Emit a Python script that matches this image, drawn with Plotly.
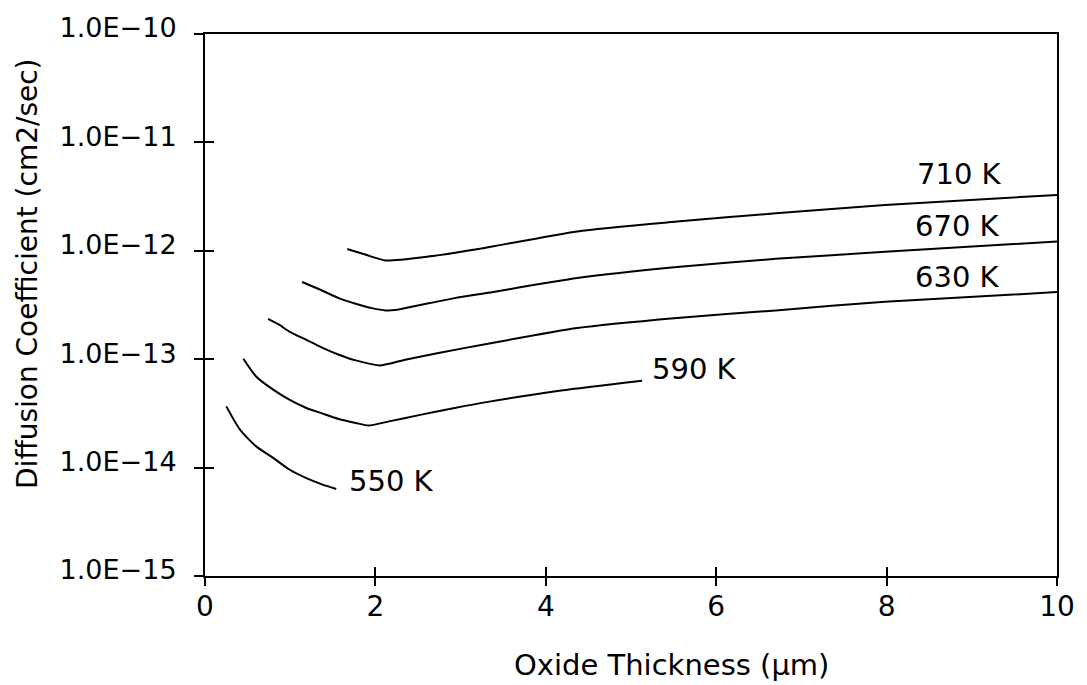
import numpy as np
import plotly.graph_objects as go

# Diffusion coefficient vs. oxide thickness at several temperatures
x_550 = [0.25, 0.41, 0.60, 0.80, 0.99, 1.19, 1.38, 1.54]
d_550 = [3.67e-14, 2.24e-14, 1.57e-14, 1.23e-14, 9.6e-15, 8.0e-15, 6.97e-15, 6.35e-15]

x_590 = [0.45, 0.60, 0.80, 0.99, 1.19, 1.38, 1.57, 1.77, 1.92, 2.16, 2.54, 2.93, 3.32, 4.18, 5.13]
d_590 = [1.01e-13, 6.93e-14, 5.24e-14, 4.24e-14, 3.55e-14, 3.15e-14, 2.81e-14, 2.58e-14,
         2.44e-14, 2.67e-14, 3.08e-14, 3.55e-14, 4.04e-14, 5.15e-14, 6.34e-14]

x_630 = [0.74, 0.87, 0.99, 1.19, 1.38, 1.57, 1.77, 2.06, 2.35, 2.74, 3.32, 4.37, 5.54, 6.70, 7.98, 10.0]
d_630 = [2.36e-13, 2.08e-13, 1.80e-13, 1.51e-13, 1.27e-13, 1.10e-13, 9.75e-14, 8.77e-14,
         9.89e-14, 1.14e-13, 1.39e-13, 1.94e-13, 2.40e-13, 2.82e-13, 3.39e-13, 4.16e-13]

x_670 = [1.14, 1.38, 1.57, 1.77, 1.96, 2.12, 2.23, 2.54, 2.93, 3.32, 4.37, 5.54, 6.70, 7.98, 10.0]
d_670 = [5.15e-13, 4.28e-13, 3.66e-13, 3.25e-13, 2.96e-13, 2.82e-13, 2.84e-13, 3.18e-13,
         3.66e-13, 4.10e-13, 5.60e-13, 7.08e-13, 8.43e-13, 9.79e-13, 1.22e-12]

x_710 = [1.67, 1.89, 2.12, 2.62, 3.21, 4.37, 5.54, 6.70, 7.98, 10.0]
d_710 = [1.04e-12, 9.18e-13, 8.15e-13, 8.85e-13, 1.04e-12, 1.51e-12, 1.86e-12, 2.22e-12,
         2.65e-12, 3.28e-12]

series_names = ["550 K", "590 K", "630 K", "670 K", "710 K"]
series_x = [x_550, x_590, x_630, x_670, x_710]
series_d = [d_550, d_590, d_630, d_670, d_710]

# Curve label anchor points (thickness, coefficient)
label_x = [2.185, 5.75, 8.83, 8.83, 8.85]
label_d = [7.48e-15, 8.17e-14, 5.79e-13, 1.71e-12, 5.13e-12]

x_ticks = [0, 2, 4, 6, 8, 10]
y_ticks = [1e-15, 1e-14, 1e-13, 1e-12, 1e-11, 1e-10]
y_tick_text = ["1.0E\u221215", "1.0E\u221214", "1.0E\u221213",
               "1.0E\u221212", "1.0E\u221211", "1.0E\u221210"]

FONT = "DejaVu Sans"

fig = go.Figure()
for name, xs, ds in zip(series_names, series_x, series_d):
    fig.add_trace(go.Scatter(x=xs, y=ds, mode="lines", name=name,
                             line=dict(color="black", width=2,
                                       shape="spline", smoothing=0.6),
                             showlegend=False))

# Empty trace on the overlay axes so their cross-ticks are drawn
fig.add_trace(go.Scatter(x=[None], y=[None], xaxis="x2", yaxis="y2",
                         mode="lines", showlegend=False, hoverinfo="skip"))

for name, lx, ld in zip(series_names, label_x, label_d):
    fig.add_annotation(x=lx, y=np.log10(ld), xref="x", yref="y", text=name,
                       showarrow=False, xanchor="center", yanchor="middle",
                       font=dict(family=FONT, size=29, color="black"))

# Axis titles
fig.add_annotation(x=0.547, y=-0.164, xref="paper", yref="paper",
                   text="Oxide Thickness (\u03bcm)", showarrow=False,
                   xanchor="center", yanchor="middle",
                   font=dict(family=FONT, size=29, color="black"))
fig.add_annotation(x=-0.209, y=0.559, xref="paper", yref="paper",
                   text="Diffusion Coefficient (cm2/sec)", showarrow=False,
                   textangle=-90, xanchor="center", yanchor="middle",
                   font=dict(family=FONT, size=28, color="black"))

axis_common = dict(showgrid=False, zeroline=False, linecolor="black",
                   linewidth=2, tickcolor="black", tickwidth=2, ticklen=9)

fig.update_layout(
    width=1087, height=685, autosize=False,
    margin=dict(l=205, r=25, t=34, b=109, pad=0),
    paper_bgcolor="white", plot_bgcolor="white",
    font=dict(family=FONT, color="black"),
    xaxis=dict(range=[0, 10], tickvals=x_ticks, ticks="inside",
               showline=True, mirror=True, ticklabelstandoff=4,
               tickfont=dict(family=FONT, size=28, color="black"),
               **axis_common),
    yaxis=dict(type="log", range=[-15, -10], tickvals=y_ticks,
               ticktext=y_tick_text, ticks="outside", showline=True,
               mirror=True, ticklabelstandoff=12, ticklabelshift=-6,
               tickfont=dict(family=FONT, size=27, color="black"),
               **axis_common),
    xaxis2=dict(range=[0, 10], tickvals=x_ticks, ticks="outside",
                overlaying="x", anchor="y", side="bottom",
                showticklabels=False, showline=False, **axis_common),
    yaxis2=dict(type="log", range=[-15, -10], tickvals=y_ticks,
                ticks="inside", overlaying="y", anchor="x", side="left",
                showticklabels=False, showline=False, **axis_common),
)

fig.write_html("out.html")
